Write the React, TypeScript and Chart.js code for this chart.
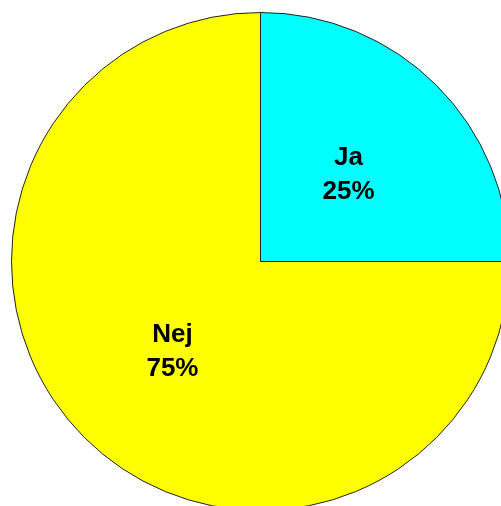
import React, { useEffect, useRef } from "react";
import { Chart, registerables } from "chart.js";

Chart.register(...registerables);

const categories = ["Ja", "Nej"];
const values = [25, 75];
const percentLabels = ["25%", "75%"];
const colors = ["#00FFFF", "#FFFF00"];

const labelPlugin = {
  id: "sliceLabels",
  afterDatasetsDraw(chart: any) {
    const ctx = chart.ctx;
    const meta = chart.getDatasetMeta(0);
    ctx.save();
    ctx.fillStyle = "#000";
    ctx.font = 'bold 26px "Liberation Sans", Arial, sans-serif';
    ctx.textAlign = "center";
    ctx.textBaseline = "alphabetic";
    meta.data.forEach((arc: any, i: number) => {
      const p = arc.getCenterPoint();
      ctx.fillText(categories[i], p.x, p.y - 8);
      ctx.fillText(percentLabels[i], p.x, p.y + 26);
    });
    ctx.restore();
  },
};

export default function App() {
  const ref = useRef<HTMLCanvasElement>(null);
  useEffect(() => {
    if (!ref.current) return;
    const chart = new Chart(ref.current, {
      type: "pie",
      data: {
        labels: categories,
        datasets: [
          {
            data: values,
            backgroundColor: colors,
            borderColor: "#222",
            borderWidth: 1,
          },
        ],
      },
      options: {
        responsive: false,
        animation: false,
        layout: { padding: { left: 11, right: 12, top: 12, bottom: 13 } },
        plugins: {
          legend: { display: false },
          tooltip: { enabled: false },
        },
      },
      plugins: [labelPlugin],
    });
    return () => chart.destroy();
  }, []);
  return (
    <div
      style={{
        position: "fixed",
        left: 0,
        top: 0,
        width: 501,
        height: 506,
        overflow: "hidden",
        background: "#fff",
      }}
    >
      <canvas
        ref={ref}
        width={522}
        height={524}
        style={{ width: 522, height: 524, display: "block" }}
      />
    </div>
  );
}
